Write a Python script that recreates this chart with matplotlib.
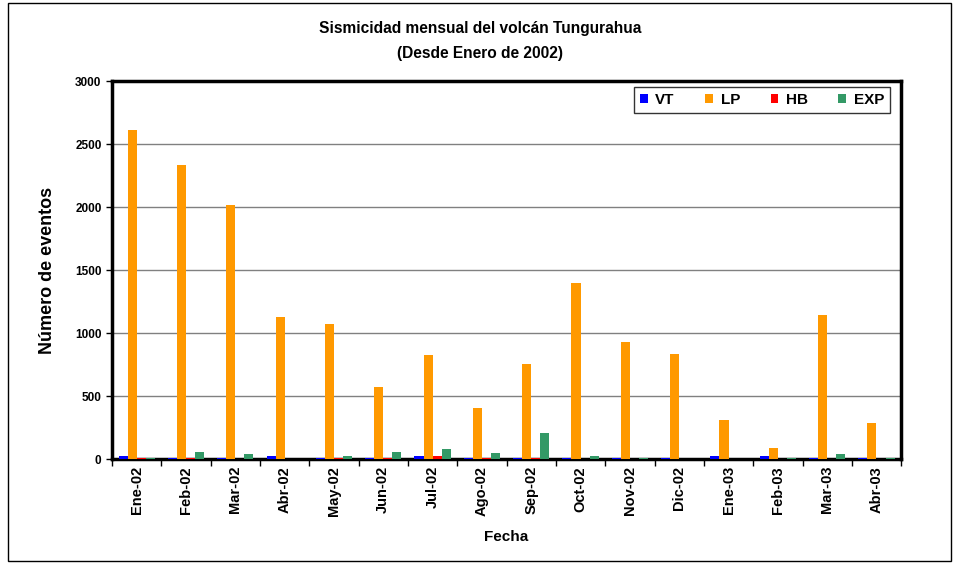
import numpy as np
import matplotlib.pyplot as plt
from matplotlib.patches import Rectangle

plt.rcParams['font.family'] = ['Liberation Sans', 'DejaVu Sans']
plt.rcParams['font.weight'] = 'bold'

meses = ['Ene-02', 'Feb-02', 'Mar-02', 'Abr-02', 'May-02', 'Jun-02', 'Jul-02', 'Ago-02',
         'Sep-02', 'Oct-02', 'Nov-02', 'Dic-02', 'Ene-03', 'Feb-03', 'Mar-03', 'Abr-03']
vt = [22, 10, 10, 22, 10, 10, 22, 10, 10, 10, 10, 10, 22, 22, 10, 10]
lp = [2610, 2335, 2015, 1125, 1070, 570, 825, 405, 755, 1395, 925, 835, 310, 85, 1140, 285]
hb = [5, 5, 0, 0, 5, 5, 20, 5, 5, 0, 0, 0, 0, 0, 0, 0]
exp = [8, 55, 40, 0, 25, 55, 80, 45, 205, 20, 5, 0, 0, 5, 40, 10]

series = [('VT', vt, '#0000ff'), ('LP', lp, '#ff9900'), ('HB', hb, '#ff0000'), ('EXP', exp, '#339966')]

fig = plt.figure(figsize=(9.6, 5.63), dpi=100)
fig.patches.append(Rectangle((0.008, 0.004), 0.983, 0.99, transform=fig.transFigure,
                             fill=False, edgecolor='black', linewidth=1))
ax = fig.add_axes([0.1167, 0.1847, 0.822, 0.6714])

x = np.arange(len(meses))
w = 0.184
for i, (nombre, vals, col) in enumerate(series):
    ax.bar(x + (i - 1.5) * w, vals, w, color=col, label=nombre, zorder=3)

ax.set_xlim(-0.5, len(meses) - 0.5)
ax.set_ylim(0, 3000)
ax.set_yticks(range(0, 3001, 500))
ax.yaxis.grid(True, color='#808080', linewidth=1, zorder=0)
ax.set_xticks(x)
ax.set_xticklabels(meses, rotation=90, fontsize=10.5, fontweight='bold')
ax.set_xticks(np.arange(-0.5, len(meses)), minor=True)
ax.tick_params(axis='x', which='major', length=0, pad=5)
ax.tick_params(axis='x', which='minor', length=5, width=1, direction='out')
ax.tick_params(axis='y', labelsize=8.5, length=4, width=1)
for lab in ax.get_yticklabels():
    lab.set_fontweight('bold')
for s in ax.spines.values():
    s.set_linewidth(2.5)

ax.set_xlabel('Fecha', fontsize=11, fontweight='bold', labelpad=10)
ax.set_ylabel('Número de eventos', fontsize=13, fontweight='bold', labelpad=14)
fig.suptitle('Sismicidad mensual del volcán Tungurahua\n(Desde Enero de 2002)',
             fontsize=11.2, fontweight='bold', x=0.5, y=0.962, linespacing=1.8)

leg = ax.legend(loc='upper right', ncol=4, fontsize=11, frameon=True, fancybox=False,
                edgecolor='black', handlelength=0.5, handleheight=0.5, handletextpad=0.5,
                columnspacing=2.0, borderpad=0.4, borderaxespad=0,
                bbox_to_anchor=(0.986, 0.984))
leg.get_frame().set_linewidth(1)
for t in leg.get_texts():
    t.set_fontweight('bold')

fig.savefig('out.png', dpi=100)
